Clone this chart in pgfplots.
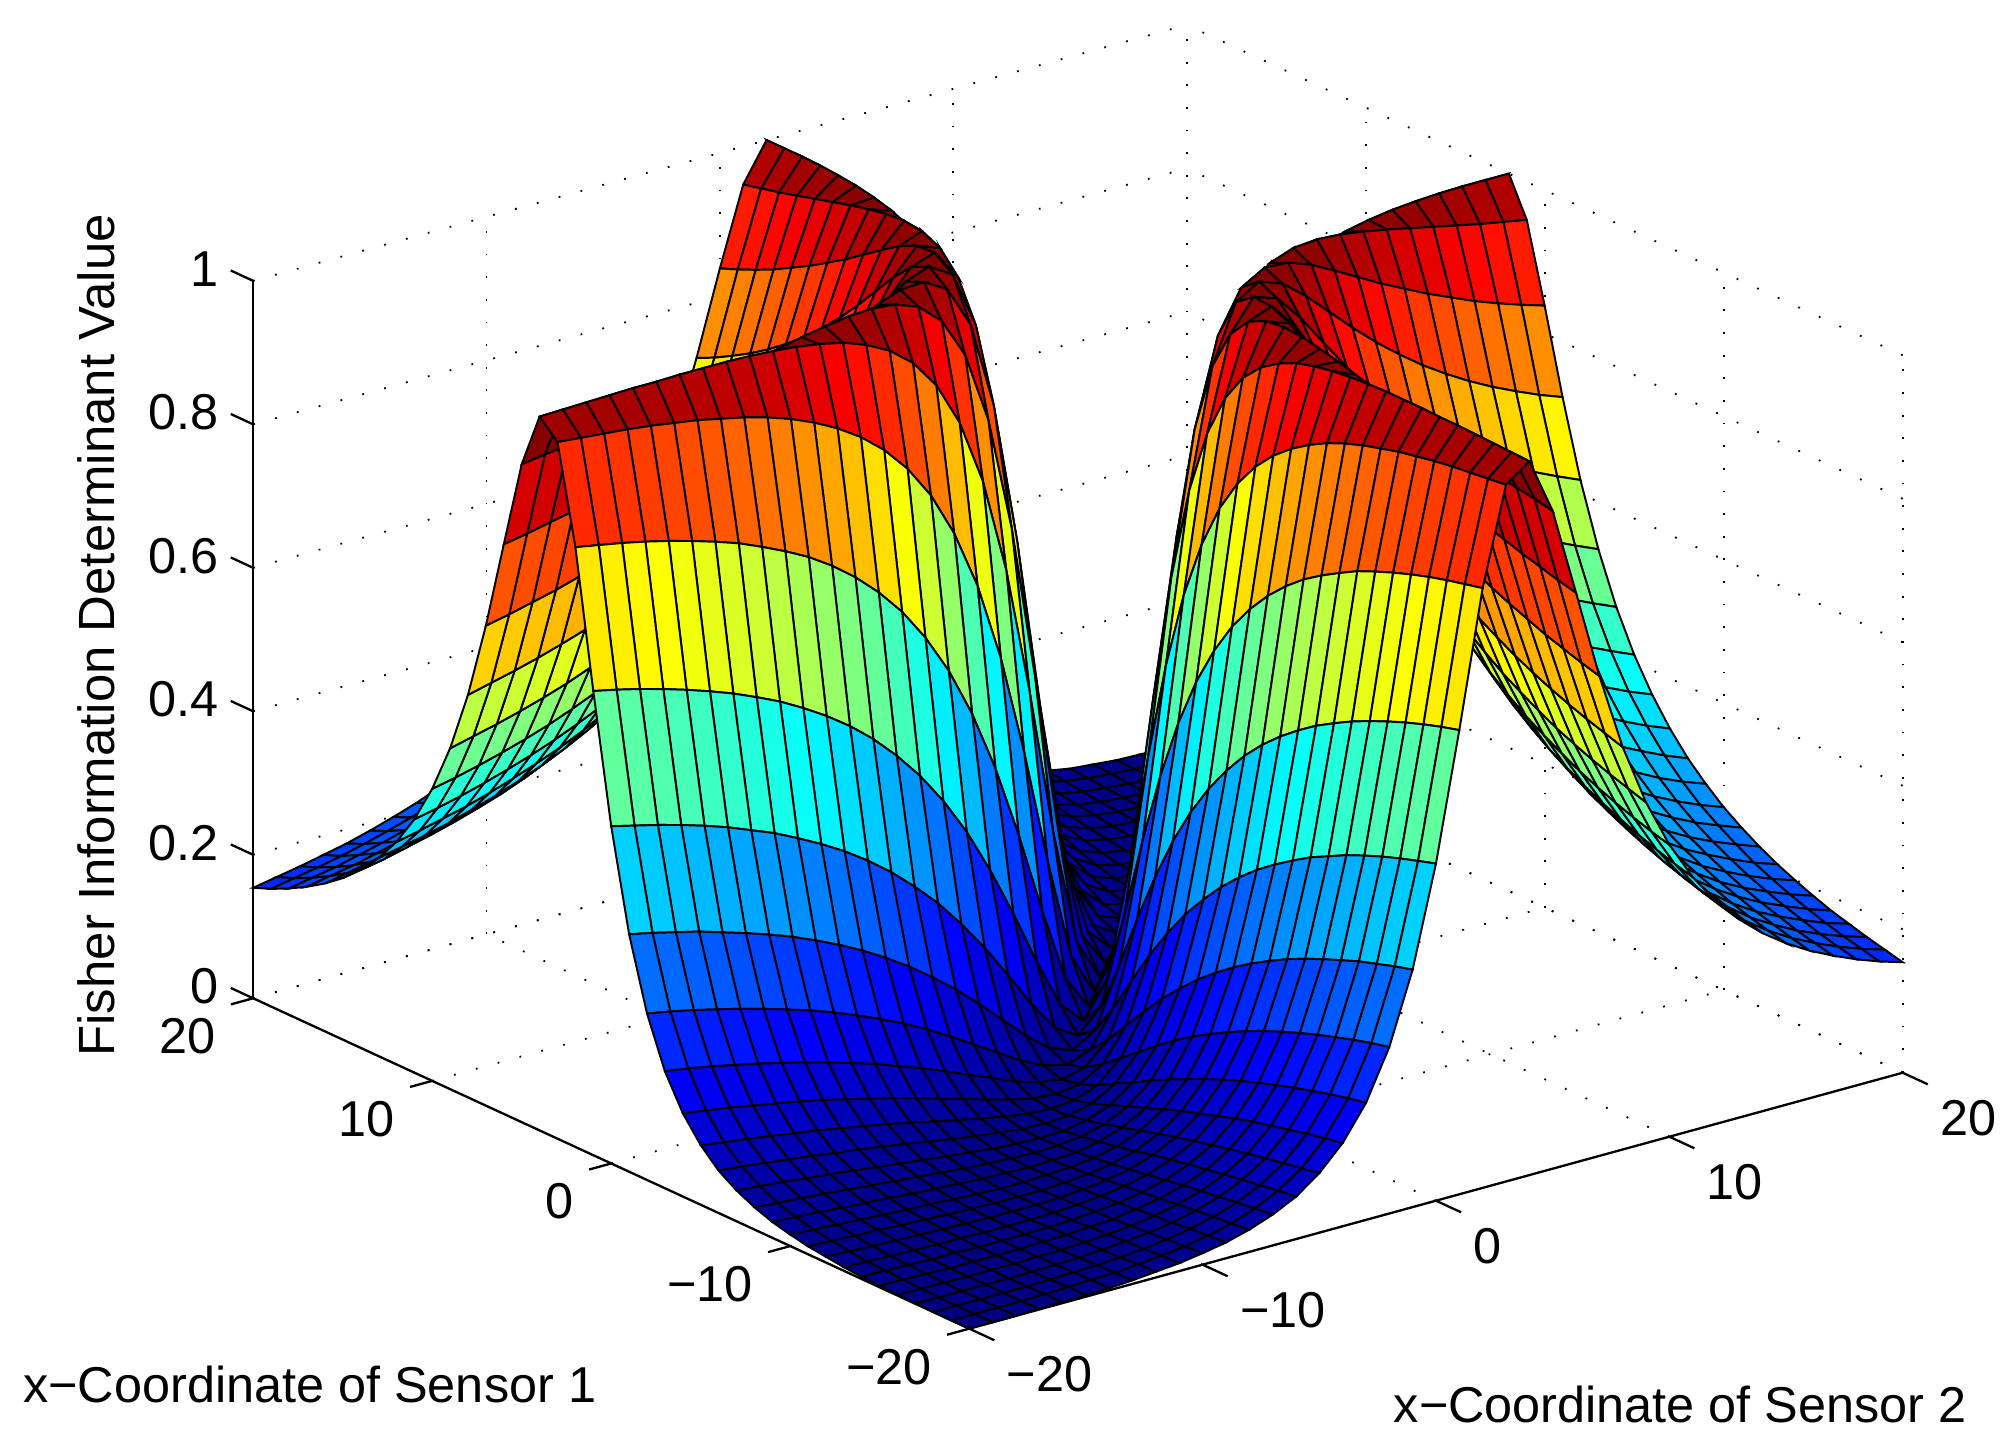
\documentclass[border=0pt]{standalone}
\usepackage{fontspec}
\setmainfont{Liberation Sans}
\usepackage{pgfplots}
\pgfplotsset{compat=1.18}
\begin{document}
\begin{tikzpicture}
\path[use as bounding box] (0,0) rectangle (392pt,281.25pt);
\begin{axis}[
  at={(209.6pt,79.9pt)}, anchor=origin,
  x={(4.5375pt,1.244pt)}, y={(-3.481pt,1.606pt)}, z={(0pt,139.5pt)},
  xmin=-20, xmax=20, ymin=-20, ymax=20, zmin=0, zmax=1,
  clip=false,
  font=\fontsize{9.8}{11}\selectfont,
  /pgf/number format/assume math mode=true,
  xtick={-20,-10,0,10,20}, ytick={-20,-10,0,10,20}, ztick={0,0.2,0.4,0.6,0.8,1},
  xticklabels={−20,−10,0,10,20}, yticklabels={−20,−10,0,10,20},
  zticklabels={0,0.2,0.4,0.6,0.8,1},
  grid=major, grid style={black, line width=0.35pt, dash pattern=on 0.35pt off 4.05pt},
  axis line style={draw=none}, tick style={draw=none},
  xticklabel style={anchor=west, xshift=3.75pt, yshift=-8.9pt},
  yticklabel style={anchor=east, xshift=-3.75pt, yshift=-7.4pt},
  zticklabel style={anchor=east, xshift=-3.25pt, yshift=2.35pt},
  colormap={matjet}{rgb=(0,0,0.5) rgb=(0,0,1) rgb=(0,0.5,1) rgb=(0,1,1) rgb=(0.5,1,0.5) rgb=(1,1,0) rgb=(1,0.5,0) rgb=(1,0,0) rgb=(0.5,0,0)},
  point meta min=0, point meta max=1,
  xlabel={x−Coordinate of Sensor 2},
  ylabel={x−Coordinate of Sensor 1},
  zlabel={\fontsize{9.9}{11}\selectfont Fisher Information Determinant Value},
  xlabel style={at={(axis cs:-5.28,-40.53,0)}, anchor=center, sloped=false, rotate=0},
  ylabel style={at={(axis cs:-41.0,-10.53,0)}, anchor=center, sloped=false, rotate=0},
  zlabel style={at={(axis cs:-3.06,50.83,0)}, anchor=center, sloped=false, rotate=0},
]
\draw[line width=0.45pt] (axis cs:-20,-20,0) -- (axis cs:20,-20,0);
\draw[line width=0.45pt] (axis cs:-20,-20,0) -- (axis cs:-20,20,0);
\draw[line width=0.45pt] (axis cs:-20,20,0) -- (axis cs:-20,20,1);
\foreach \t in {-20,-10,0,10,20} {
  \edef\temp{\noexpand\draw[line width=0.45pt] (axis cs:\t,-20,0) -- (axis cs:\t,-21.4,0);
  \noexpand\draw[line width=0.45pt] (axis cs:-20,\t,0) -- (axis cs:-20.95,\t,0);}
  \temp
}
\foreach \t in {0,0.2,0.4,0.6,0.8,1} {
  \edef\temp{\noexpand\draw[line width=0.45pt] (axis cs:-20,20,\t) -- (axis cs:-20,21.25,\t);}
  \temp
}
\addplot3[surf, shader=flat corner, draw=black, line width=0.38pt, z buffer=sort, mesh/rows=41, mesh/cols=41]
 table[row sep=crcr, header=false, x expr={mod(\coordindex,41)-20}, y expr={floor((\coordindex+0.5)/41)-20}, z index=0] {
0\\0.000\\0.000\\0.001\\0.001\\0.002\\0.003\\0.005\\0.008\\0.011\\0.016\\0.022\\0.031\\0.043\\0.059\\0.083\\0.116\\0.163\\0.232\\0.331\\0.470\\0.647\\0.836\\0.971\\0.995\\0.917\\0.794\\0.669\\0.561\\0.475\\0.407\\0.353\\0.310\\0.276\\0.248\\0.225\\0.206\\0.190\\0.176\\0.164\\0.154\\
0.000\\0\\0.000\\0.000\\0.001\\0.002\\0.003\\0.004\\0.007\\0.010\\0.014\\0.020\\0.028\\0.040\\0.056\\0.078\\0.111\\0.158\\0.226\\0.324\\0.462\\0.640\\0.830\\0.968\\0.996\\0.922\\0.800\\0.676\\0.569\\0.483\\0.414\\0.360\\0.317\\0.283\\0.254\\0.231\\0.212\\0.196\\0.182\\0.170\\0.160\\
0.000\\0.000\\0\\0.000\\0.000\\0.001\\0.002\\0.003\\0.005\\0.008\\0.012\\0.018\\0.026\\0.037\\0.052\\0.074\\0.106\\0.152\\0.219\\0.316\\0.454\\0.632\\0.824\\0.965\\0.997\\0.926\\0.807\\0.684\\0.577\\0.491\\0.422\\0.368\\0.325\\0.290\\0.262\\0.238\\0.219\\0.202\\0.188\\0.176\\0.166\\
0.001\\0.000\\0.000\\0\\0.000\\0.000\\0.001\\0.002\\0.004\\0.007\\0.010\\0.015\\0.023\\0.033\\0.048\\0.069\\0.100\\0.145\\0.211\\0.308\\0.445\\0.623\\0.817\\0.962\\0.998\\0.931\\0.814\\0.692\\0.586\\0.500\\0.431\\0.377\\0.333\\0.298\\0.270\\0.246\\0.226\\0.210\\0.196\\0.183\\0.173\\
0.001\\0.001\\0.000\\0.000\\0\\0.000\\0.001\\0.001\\0.003\\0.005\\0.008\\0.013\\0.020\\0.030\\0.044\\0.064\\0.094\\0.138\\0.203\\0.298\\0.435\\0.613\\0.809\\0.958\\0.999\\0.936\\0.822\\0.702\\0.596\\0.510\\0.441\\0.387\\0.343\\0.308\\0.279\\0.255\\0.235\\0.218\\0.204\\0.191\\0.180\\
0.002\\0.002\\0.001\\0.000\\0.000\\0\\0.000\\0.001\\0.002\\0.004\\0.006\\0.011\\0.017\\0.026\\0.039\\0.059\\0.088\\0.130\\0.194\\0.288\\0.424\\0.602\\0.800\\0.953\\0.999\\0.941\\0.830\\0.712\\0.607\\0.521\\0.452\\0.398\\0.354\\0.318\\0.289\\0.265\\0.244\\0.227\\0.213\\0.200\\0.189\\
0.003\\0.003\\0.002\\0.001\\0.001\\0.000\\0\\0.000\\0.001\\0.002\\0.005\\0.008\\0.014\\0.022\\0.035\\0.053\\0.081\\0.122\\0.184\\0.277\\0.411\\0.590\\0.790\\0.948\\1.000\\0.947\\0.839\\0.723\\0.619\\0.534\\0.465\\0.410\\0.366\\0.330\\0.300\\0.276\\0.255\\0.238\\0.223\\0.210\\0.199\\
0.005\\0.004\\0.003\\0.002\\0.001\\0.001\\0.000\\0\\0.000\\0.001\\0.003\\0.006\\0.011\\0.018\\0.030\\0.047\\0.073\\0.113\\0.174\\0.265\\0.398\\0.576\\0.779\\0.941\\1.000\\0.953\\0.849\\0.735\\0.633\\0.548\\0.479\\0.424\\0.379\\0.343\\0.313\\0.288\\0.267\\0.250\\0.235\\0.221\\0.210\\
0.008\\0.007\\0.005\\0.004\\0.003\\0.002\\0.001\\0.000\\0\\0.000\\0.001\\0.004\\0.008\\0.014\\0.025\\0.041\\0.065\\0.103\\0.162\\0.251\\0.382\\0.561\\0.765\\0.934\\1.000\\0.959\\0.860\\0.749\\0.648\\0.563\\0.494\\0.439\\0.394\\0.358\\0.328\\0.302\\0.281\\0.263\\0.248\\0.235\\0.223\\
0.011\\0.010\\0.008\\0.007\\0.005\\0.004\\0.002\\0.001\\0.000\\0\\0.000\\0.002\\0.005\\0.010\\0.019\\0.034\\0.057\\0.093\\0.149\\0.236\\0.365\\0.543\\0.750\\0.925\\0.999\\0.966\\0.872\\0.764\\0.665\\0.581\\0.512\\0.457\\0.412\\0.375\\0.344\\0.319\\0.297\\0.279\\0.263\\0.250\\0.238\\
0.016\\0.014\\0.012\\0.010\\0.008\\0.006\\0.005\\0.003\\0.001\\0.000\\0\\0.001\\0.003\\0.007\\0.014\\0.027\\0.048\\0.081\\0.135\\0.219\\0.346\\0.523\\0.733\\0.914\\0.997\\0.973\\0.886\\0.781\\0.683\\0.600\\0.532\\0.477\\0.432\\0.394\\0.364\\0.338\\0.316\\0.297\\0.281\\0.267\\0.255\\
0.022\\0.020\\0.018\\0.015\\0.013\\0.011\\0.008\\0.006\\0.004\\0.002\\0.001\\0\\0.001\\0.003\\0.009\\0.020\\0.038\\0.069\\0.120\\0.200\\0.324\\0.500\\0.712\\0.900\\0.994\\0.980\\0.900\\0.800\\0.705\\0.623\\0.555\\0.500\\0.455\\0.417\\0.386\\0.360\\0.338\\0.319\\0.302\\0.288\\0.276\\
0.031\\0.028\\0.026\\0.023\\0.020\\0.017\\0.014\\0.011\\0.008\\0.005\\0.003\\0.001\\0\\0.001\\0.005\\0.013\\0.029\\0.056\\0.103\\0.179\\0.299\\0.473\\0.687\\0.883\\0.989\\0.987\\0.916\\0.821\\0.729\\0.649\\0.582\\0.527\\0.482\\0.444\\0.413\\0.386\\0.364\\0.344\\0.328\\0.313\\0.300\\
0.043\\0.040\\0.037\\0.033\\0.030\\0.026\\0.022\\0.018\\0.014\\0.010\\0.007\\0.003\\0.001\\0\\0.001\\0.007\\0.019\\0.042\\0.084\\0.155\\0.270\\0.441\\0.657\\0.862\\0.982\\0.993\\0.932\\0.845\\0.757\\0.679\\0.613\\0.559\\0.513\\0.476\\0.444\\0.417\\0.394\\0.375\\0.358\\0.343\\0.330\\
0.059\\0.056\\0.052\\0.048\\0.044\\0.039\\0.035\\0.030\\0.025\\0.019\\0.014\\0.009\\0.005\\0.001\\0\\0.002\\0.010\\0.029\\0.064\\0.129\\0.238\\0.404\\0.621\\0.835\\0.970\\0.998\\0.950\\0.871\\0.789\\0.714\\0.650\\0.596\\0.551\\0.513\\0.482\\0.455\\0.432\\0.412\\0.394\\0.379\\0.366\\
0.083\\0.078\\0.074\\0.069\\0.064\\0.059\\0.053\\0.047\\0.041\\0.034\\0.027\\0.020\\0.013\\0.007\\0.002\\0\\0.003\\0.015\\0.044\\0.100\\0.200\\0.360\\0.576\\0.800\\0.953\\1.000\\0.968\\0.900\\0.824\\0.754\\0.692\\0.640\\0.596\\0.559\\0.527\\0.500\\0.477\\0.457\\0.439\\0.424\\0.410\\
0.116\\0.111\\0.106\\0.100\\0.094\\0.088\\0.081\\0.073\\0.065\\0.057\\0.048\\0.038\\0.029\\0.019\\0.010\\0.003\\0\\0.005\\0.024\\0.069\\0.158\\0.308\\0.521\\0.754\\0.927\\0.997\\0.985\\0.931\\0.865\\0.800\\0.742\\0.692\\0.650\\0.613\\0.582\\0.555\\0.532\\0.512\\0.494\\0.479\\0.465\\
0.163\\0.158\\0.152\\0.145\\0.138\\0.130\\0.122\\0.113\\0.103\\0.093\\0.081\\0.069\\0.056\\0.042\\0.029\\0.015\\0.005\\0\\0.008\\0.038\\0.111\\0.246\\0.452\\0.692\\0.887\\0.985\\0.997\\0.962\\0.908\\0.852\\0.800\\0.754\\0.714\\0.679\\0.649\\0.623\\0.600\\0.581\\0.563\\0.548\\0.534\\
0.232\\0.226\\0.219\\0.211\\0.203\\0.194\\0.184\\0.174\\0.162\\0.149\\0.135\\0.120\\0.103\\0.084\\0.064\\0.044\\0.024\\0.008\\0\\0.012\\0.062\\0.176\\0.367\\0.610\\0.826\\0.956\\0.999\\0.988\\0.952\\0.908\\0.865\\0.824\\0.789\\0.757\\0.729\\0.705\\0.683\\0.665\\0.648\\0.633\\0.619\\
0.331\\0.324\\0.316\\0.308\\0.298\\0.288\\0.277\\0.265\\0.251\\0.236\\0.219\\0.200\\0.179\\0.155\\0.129\\0.100\\0.069\\0.038\\0.012\\0\\0.020\\0.100\\0.265\\0.500\\0.735\\0.900\\0.980\\1.000\\0.988\\0.962\\0.931\\0.900\\0.871\\0.845\\0.821\\0.800\\0.781\\0.764\\0.749\\0.735\\0.723\\
0.470\\0.462\\0.454\\0.445\\0.435\\0.424\\0.411\\0.398\\0.382\\0.365\\0.346\\0.324\\0.299\\0.270\\0.238\\0.200\\0.158\\0.111\\0.062\\0.020\\0\\0.032\\0.151\\0.360\\0.602\\0.800\\0.922\\0.980\\0.999\\0.997\\0.985\\0.968\\0.950\\0.932\\0.916\\0.900\\0.886\\0.872\\0.860\\0.849\\0.839\\
0.647\\0.640\\0.632\\0.623\\0.613\\0.602\\0.590\\0.576\\0.561\\0.543\\0.523\\0.500\\0.473\\0.441\\0.404\\0.360\\0.308\\0.246\\0.176\\0.100\\0.032\\0\\0.047\\0.200\\0.424\\0.640\\0.800\\0.900\\0.956\\0.985\\0.997\\1.000\\0.998\\0.993\\0.987\\0.980\\0.973\\0.966\\0.959\\0.953\\0.947\\
0.836\\0.830\\0.824\\0.817\\0.809\\0.800\\0.790\\0.779\\0.765\\0.750\\0.733\\0.712\\0.687\\0.657\\0.621\\0.576\\0.521\\0.452\\0.367\\0.265\\0.151\\0.047\\0\\0.059\\0.221\\0.424\\0.602\\0.735\\0.826\\0.887\\0.927\\0.953\\0.970\\0.982\\0.989\\0.994\\0.997\\0.999\\1.000\\1.000\\1.000\\
0.971\\0.968\\0.965\\0.962\\0.958\\0.953\\0.948\\0.941\\0.934\\0.925\\0.914\\0.900\\0.883\\0.862\\0.835\\0.800\\0.754\\0.692\\0.610\\0.500\\0.360\\0.200\\0.059\\0\\0.059\\0.200\\0.360\\0.500\\0.610\\0.692\\0.754\\0.800\\0.835\\0.862\\0.883\\0.900\\0.914\\0.925\\0.934\\0.941\\0.948\\
0.995\\0.996\\0.997\\0.998\\0.999\\0.999\\1.000\\1.000\\1.000\\0.999\\0.997\\0.994\\0.989\\0.982\\0.970\\0.953\\0.927\\0.887\\0.826\\0.735\\0.602\\0.424\\0.221\\0.059\\0\\0.047\\0.151\\0.265\\0.367\\0.452\\0.521\\0.576\\0.621\\0.657\\0.687\\0.712\\0.733\\0.750\\0.765\\0.779\\0.790\\
0.917\\0.922\\0.926\\0.931\\0.936\\0.941\\0.947\\0.953\\0.959\\0.966\\0.973\\0.980\\0.987\\0.993\\0.998\\1.000\\0.997\\0.985\\0.956\\0.900\\0.800\\0.640\\0.424\\0.200\\0.047\\0\\0.032\\0.100\\0.176\\0.246\\0.308\\0.360\\0.404\\0.441\\0.473\\0.500\\0.523\\0.543\\0.561\\0.576\\0.590\\
0.794\\0.800\\0.807\\0.814\\0.822\\0.830\\0.839\\0.849\\0.860\\0.872\\0.886\\0.900\\0.916\\0.932\\0.950\\0.968\\0.985\\0.997\\0.999\\0.980\\0.922\\0.800\\0.602\\0.360\\0.151\\0.032\\0\\0.020\\0.062\\0.111\\0.158\\0.200\\0.238\\0.270\\0.299\\0.324\\0.346\\0.365\\0.382\\0.398\\0.411\\
0.669\\0.676\\0.684\\0.692\\0.702\\0.712\\0.723\\0.735\\0.749\\0.764\\0.781\\0.800\\0.821\\0.845\\0.871\\0.900\\0.931\\0.962\\0.988\\1.000\\0.980\\0.900\\0.735\\0.500\\0.265\\0.100\\0.020\\0\\0.012\\0.038\\0.069\\0.100\\0.129\\0.155\\0.179\\0.200\\0.219\\0.236\\0.251\\0.265\\0.277\\
0.561\\0.569\\0.577\\0.586\\0.596\\0.607\\0.619\\0.633\\0.648\\0.665\\0.683\\0.705\\0.729\\0.757\\0.789\\0.824\\0.865\\0.908\\0.952\\0.988\\0.999\\0.956\\0.826\\0.610\\0.367\\0.176\\0.062\\0.012\\0\\0.008\\0.024\\0.044\\0.064\\0.084\\0.103\\0.120\\0.135\\0.149\\0.162\\0.174\\0.184\\
0.475\\0.483\\0.491\\0.500\\0.510\\0.521\\0.534\\0.548\\0.563\\0.581\\0.600\\0.623\\0.649\\0.679\\0.714\\0.754\\0.800\\0.852\\0.908\\0.962\\0.997\\0.985\\0.887\\0.692\\0.452\\0.246\\0.111\\0.038\\0.008\\0\\0.005\\0.015\\0.029\\0.042\\0.056\\0.069\\0.081\\0.093\\0.103\\0.113\\0.122\\
0.407\\0.414\\0.422\\0.431\\0.441\\0.452\\0.465\\0.479\\0.494\\0.512\\0.532\\0.555\\0.582\\0.613\\0.650\\0.692\\0.742\\0.800\\0.865\\0.931\\0.985\\0.997\\0.927\\0.754\\0.521\\0.308\\0.158\\0.069\\0.024\\0.005\\0\\0.003\\0.010\\0.019\\0.029\\0.038\\0.048\\0.057\\0.065\\0.073\\0.081\\
0.353\\0.360\\0.368\\0.377\\0.387\\0.398\\0.410\\0.424\\0.439\\0.457\\0.477\\0.500\\0.527\\0.559\\0.596\\0.640\\0.692\\0.754\\0.824\\0.900\\0.968\\1.000\\0.953\\0.800\\0.576\\0.360\\0.200\\0.100\\0.044\\0.015\\0.003\\0\\0.002\\0.007\\0.013\\0.020\\0.027\\0.034\\0.041\\0.047\\0.053\\
0.310\\0.317\\0.325\\0.333\\0.343\\0.354\\0.366\\0.379\\0.394\\0.412\\0.432\\0.455\\0.482\\0.513\\0.551\\0.596\\0.650\\0.714\\0.789\\0.871\\0.950\\0.998\\0.970\\0.835\\0.621\\0.404\\0.238\\0.129\\0.064\\0.029\\0.010\\0.002\\0\\0.001\\0.005\\0.009\\0.014\\0.019\\0.025\\0.030\\0.035\\
0.276\\0.283\\0.290\\0.298\\0.308\\0.318\\0.330\\0.343\\0.358\\0.375\\0.394\\0.417\\0.444\\0.476\\0.513\\0.559\\0.613\\0.679\\0.757\\0.845\\0.932\\0.993\\0.982\\0.862\\0.657\\0.441\\0.270\\0.155\\0.084\\0.042\\0.019\\0.007\\0.001\\0\\0.001\\0.003\\0.007\\0.010\\0.014\\0.018\\0.022\\
0.248\\0.254\\0.262\\0.270\\0.279\\0.289\\0.300\\0.313\\0.328\\0.344\\0.364\\0.386\\0.413\\0.444\\0.482\\0.527\\0.582\\0.649\\0.729\\0.821\\0.916\\0.987\\0.989\\0.883\\0.687\\0.473\\0.299\\0.179\\0.103\\0.056\\0.029\\0.013\\0.005\\0.001\\0\\0.001\\0.003\\0.005\\0.008\\0.011\\0.014\\
0.225\\0.231\\0.238\\0.246\\0.255\\0.265\\0.276\\0.288\\0.302\\0.319\\0.338\\0.360\\0.386\\0.417\\0.455\\0.500\\0.555\\0.623\\0.705\\0.800\\0.900\\0.980\\0.994\\0.900\\0.712\\0.500\\0.324\\0.200\\0.120\\0.069\\0.038\\0.020\\0.009\\0.003\\0.001\\0\\0.001\\0.002\\0.004\\0.006\\0.008\\
0.206\\0.212\\0.219\\0.226\\0.235\\0.244\\0.255\\0.267\\0.281\\0.297\\0.316\\0.338\\0.364\\0.394\\0.432\\0.477\\0.532\\0.600\\0.683\\0.781\\0.886\\0.973\\0.997\\0.914\\0.733\\0.523\\0.346\\0.219\\0.135\\0.081\\0.048\\0.027\\0.014\\0.007\\0.003\\0.001\\0\\0.000\\0.001\\0.003\\0.005\\
0.190\\0.196\\0.202\\0.210\\0.218\\0.227\\0.238\\0.250\\0.263\\0.279\\0.297\\0.319\\0.344\\0.375\\0.412\\0.457\\0.512\\0.581\\0.665\\0.764\\0.872\\0.966\\0.999\\0.925\\0.750\\0.543\\0.365\\0.236\\0.149\\0.093\\0.057\\0.034\\0.019\\0.010\\0.005\\0.002\\0.000\\0\\0.000\\0.001\\0.002\\
0.176\\0.182\\0.188\\0.196\\0.204\\0.213\\0.223\\0.235\\0.248\\0.263\\0.281\\0.302\\0.328\\0.358\\0.394\\0.439\\0.494\\0.563\\0.648\\0.749\\0.860\\0.959\\1.000\\0.934\\0.765\\0.561\\0.382\\0.251\\0.162\\0.103\\0.065\\0.041\\0.025\\0.014\\0.008\\0.004\\0.001\\0.000\\0\\0.000\\0.001\\
0.164\\0.170\\0.176\\0.183\\0.191\\0.200\\0.210\\0.221\\0.235\\0.250\\0.267\\0.288\\0.313\\0.343\\0.379\\0.424\\0.479\\0.548\\0.633\\0.735\\0.849\\0.953\\1.000\\0.941\\0.779\\0.576\\0.398\\0.265\\0.174\\0.113\\0.073\\0.047\\0.030\\0.018\\0.011\\0.006\\0.003\\0.001\\0.000\\0\\0.000\\
0.154\\0.160\\0.166\\0.173\\0.180\\0.189\\0.199\\0.210\\0.223\\0.238\\0.255\\0.276\\0.300\\0.330\\0.366\\0.410\\0.465\\0.534\\0.619\\0.723\\0.839\\0.947\\1.000\\0.948\\0.790\\0.590\\0.411\\0.277\\0.184\\0.122\\0.081\\0.053\\0.035\\0.022\\0.014\\0.008\\0.005\\0.002\\0.001\\0.000\\0\\
};
\end{axis}
\end{tikzpicture}
\end{document}
